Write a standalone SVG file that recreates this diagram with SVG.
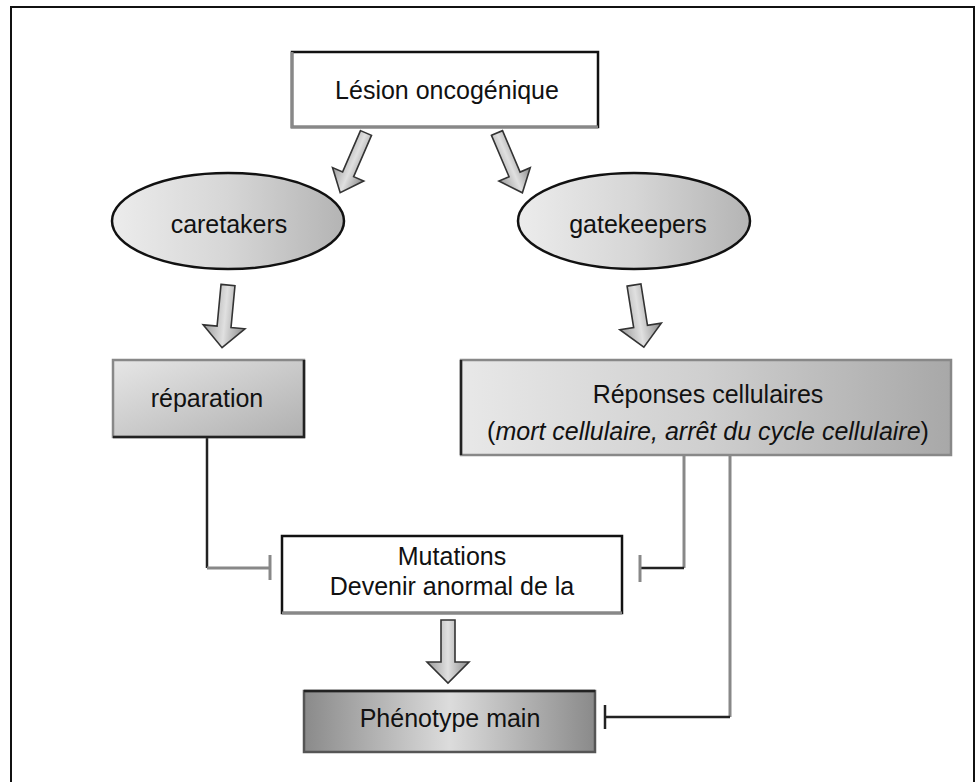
<svg xmlns="http://www.w3.org/2000/svg" width="979" height="782" viewBox="0 0 979 782">
<style>
text{font-family:"Liberation Sans",Arial,sans-serif;font-size:25px;fill:#111;text-anchor:middle}
.box{stroke:#111;stroke-width:2.5}
.shade{stroke:#888;stroke-width:3;fill:none}
.arrow{stroke:#333;stroke-width:1.6;fill:url(#ga);stroke-linejoin:miter}
.line{fill:none;stroke:#222;stroke-width:2.5}
.gline{fill:none;stroke:#888;stroke-width:3}
</style>
<defs>
<linearGradient id="gell" x1="0" y1="0" x2="1" y2="0">
<stop offset="0" stop-color="#ececec"/><stop offset="0.5" stop-color="#d6d6d6"/><stop offset="1" stop-color="#b4b4b4"/>
</linearGradient>
<linearGradient id="grep" x1="0" y1="0" x2="1" y2="1">
<stop offset="0" stop-color="#e6e6e6"/><stop offset="1" stop-color="#b0b0b0"/>
</linearGradient>
<linearGradient id="grepo" x1="0" y1="0" x2="1" y2="0">
<stop offset="0" stop-color="#e8e8e8"/><stop offset="0.5" stop-color="#cfcfcf"/><stop offset="1" stop-color="#a8a8a8"/>
</linearGradient>
<linearGradient id="gphe" x1="0" y1="0" x2="1" y2="0">
<stop offset="0" stop-color="#8a8a8a"/><stop offset="0.5" stop-color="#dcdcdc"/><stop offset="1" stop-color="#8a8a8a"/>
</linearGradient>
<linearGradient id="ga" x1="0" y1="0" x2="1" y2="0">
<stop offset="0" stop-color="#9a9a9a"/><stop offset="0.5" stop-color="#e0e0e0"/><stop offset="1" stop-color="#8a8a8a"/>
</linearGradient>
<path id="arrD" d="M-7,0 L7,0 L7,42 L21,42 L0,63 L-21,42 L-7,42 Z"/>
<path id="arrS" d="M-6,0 L6,0 L6,45 L17,45 L0,65 L-17,45 L-6,45 Z"/>
</defs>
<rect width="979" height="782" fill="#fff"/>
<polyline points="11,782 11,7 974,7 974,782" fill="none" stroke="#111" stroke-width="2"/>

<g id="connectors">
<use href="#arrS" class="arrow" transform="translate(366,133) rotate(23.4)"/>
<use href="#arrS" class="arrow" transform="translate(497,133) rotate(-23)"/>
<use href="#arrD" class="arrow" transform="translate(228,285) rotate(5.4)"/>
<use href="#arrD" class="arrow" transform="translate(634,285) rotate(-9)"/>
<use href="#arrD" class="arrow" transform="translate(448,620)"/>
<polyline class="line" points="207,438 207,568"/>
<polyline class="gline" points="207,568 270,568"/>
<line class="gline" x1="270" y1="555" x2="270" y2="580"/>
<polyline class="gline" points="684,456 684,568"/>
<polyline class="line" points="684,568 640,568"/>
<line class="gline" x1="640" y1="555" x2="640" y2="582"/>
<polyline class="gline" points="730,456 730,717"/>
<polyline class="line" points="730,717 605,717"/>
<line class="line" x1="605" y1="705" x2="605" y2="729"/>
</g>

<g id="lesion">
<rect x="292" y="52" width="306" height="75" fill="#fff" class="box"/>
<polyline class="shade" points="292,52 292,127 598,127"/>
<text x="447" y="99">Lésion oncogénique</text>
</g>

<g id="caretakers">
<ellipse cx="228" cy="221" rx="116" ry="48" fill="url(#gell)" stroke="#111" stroke-width="2.5"/>
<text x="229" y="233">caretakers</text>
</g>

<g id="gatekeepers">
<ellipse cx="634" cy="221" rx="116" ry="48" fill="url(#gell)" stroke="#111" stroke-width="2.5"/>
<text x="638" y="233">gatekeepers</text>
</g>

<g id="reparation">
<rect x="113" y="360" width="191" height="77" fill="url(#grep)" stroke="#888" stroke-width="2.5"/>
<polyline class="line" points="113,437 304,437 304,360" stroke-width="3"/>
<text x="207" y="407">réparation</text>
</g>

<g id="reponses">
<rect x="461" y="360" width="490" height="95" fill="url(#grepo)" stroke="#888" stroke-width="2.5"/>
<line class="line" x1="461" y1="360" x2="461" y2="455"/>
<text x="708" y="403">Réponses cellulaires</text>
<text x="708" y="440">(<tspan font-style="italic">mort cellulaire, arrêt du cycle cellulaire</tspan>)</text>
</g>

<g id="mutations">
<rect x="282" y="536" width="340" height="77" fill="#fff" class="box"/>
<line class="shade" x1="282" y1="613" x2="622" y2="613"/>
<text x="452" y="565">Mutations</text>
<text x="452" y="595">Devenir anormal de la</text>
</g>

<g id="phenotype">
<rect x="304" y="691" width="291" height="61" fill="url(#gphe)" stroke="#555" stroke-width="2.5"/>
<line x1="304" y1="691" x2="595" y2="691" stroke="#222" stroke-width="2.5"/>
<text x="450" y="727">Phénotype main</text>
</g>
</svg>
